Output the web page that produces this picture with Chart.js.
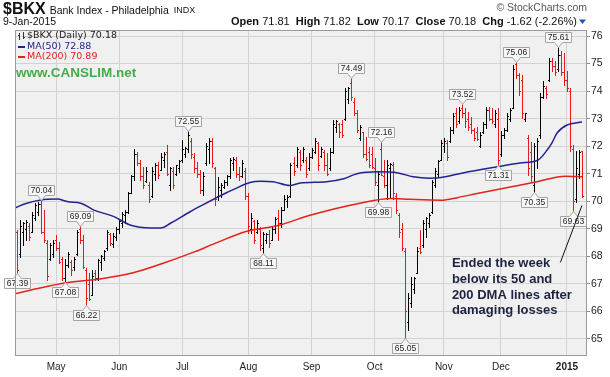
<!DOCTYPE html>
<html><head><meta charset="utf-8">
<script src="https://cdn.jsdelivr.net/npm/chart.js@4/dist/chart.umd.min.js"></script>
<style>html,body{margin:0;padding:0;background:#fff}canvas{display:block}</style>
</head><body>
<canvas id="c" width="610" height="377"></canvas>
<script>
// ---- DATA (daily bars, 11-Apr-2014 .. 9-Jan-2015, x = trading-day index) ----
const opens = [68.90,68.10,68.90,69.00,69.10,68.90,69.40,69.60,69.90,68.90,
68.50,67.90,68.10,68.60,68.30,67.90,67.20,67.70,67.80,67.60,
68.10,69.00,68.60,67.50,67.00,66.60,67.40,67.20,67.80,67.95,
68.30,68.80,68.45,68.70,69.00,69.20,69.50,69.60,70.30,70.90,
71.70,71.40,70.90,70.75,70.60,70.20,71.00,71.30,71.15,71.50,
71.80,70.60,71.10,71.00,71.20,71.50,71.70,71.90,72.20,71.60,
71.20,71.00,70.40,71.40,71.90,72.20,71.20,70.20,70.40,70.50,
70.70,70.90,71.40,71.50,71.00,70.90,71.10,70.20,69.00,69.30,
68.90,69.00,68.30,68.60,68.80,68.60,69.00,69.40,69.20,69.70,
70.00,70.20,71.40,71.30,71.80,71.50,71.50,71.20,71.60,71.80,
72.10,71.65,71.80,71.30,71.20,71.80,72.70,72.80,72.80,73.00,
73.70,74.30,73.60,73.20,72.30,72.50,71.70,71.80,71.70,71.20,
70.60,71.90,70.90,70.60,71.20,71.30,70.20,69.50,69.00,68.20,
65.60,66.30,66.80,67.40,68.30,68.40,69.00,69.20,69.60,70.60,
71.00,71.50,72.00,72.10,72.20,72.60,73.20,72.90,73.40,73.20,
73.00,72.80,72.60,72.50,72.00,72.50,72.80,73.30,73.00,72.80,
73.00,71.70,72.40,72.60,73.00,73.40,75.00,74.60,74.40,73.00,
72.30,71.80,70.60,71.50,72.40,73.80,74.10,74.40,75.10,74.90,
74.80,75.30,74.70,74.40,74.00,71.90,70.10,71.00,71.81];
const highs = [68.96,69.32,69.26,69.32,69.20,69.62,69.92,69.98,70.04,69.68,
68.59,68.47,68.59,68.77,68.53,67.98,67.92,68.17,67.86,67.98,
68.95,69.09,68.77,67.56,67.38,67.50,67.50,67.92,68.05,68.23,
68.95,68.83,68.83,69.08,69.32,69.62,69.68,70.35,70.95,71.88,
71.80,71.50,71.26,71.26,70.71,71.26,71.38,71.44,71.74,71.80,
72.04,71.26,71.26,71.32,71.50,72.22,71.98,72.55,72.28,71.74,
71.44,71.14,71.07,72.10,72.28,72.28,71.26,70.89,70.65,70.77,
70.95,71.56,71.62,71.62,71.26,71.50,71.20,70.29,69.56,69.32,
69.32,69.08,68.90,68.83,68.95,69.08,69.44,69.68,69.80,70.23,
70.23,71.38,71.62,71.98,71.86,71.98,71.62,71.74,71.92,72.28,
72.16,71.98,71.86,71.74,71.92,72.95,72.95,72.83,72.95,74.10,
74.16,74.49,73.74,73.31,72.77,72.53,72.34,71.98,71.98,71.56,
71.07,72.16,71.50,71.50,71.38,71.44,70.29,69.56,69.20,68.29,
66.66,67.26,67.26,68.35,68.95,69.32,69.44,69.56,70.77,71.19,
71.50,72.22,72.28,72.22,72.71,73.19,73.37,73.43,73.52,73.37,
73.25,73.07,72.65,72.71,72.52,72.89,73.43,73.43,73.37,73.31,
73.37,72.54,72.66,73.20,73.38,74.96,75.06,74.66,74.60,73.20,
72.42,72.17,72.11,72.30,73.93,74.35,74.20,75.20,75.20,75.08,
75.61,75.45,75.38,74.72,74.11,72.05,71.81,71.87,71.82];
const lows = [67.39,67.98,68.41,68.59,68.60,68.90,69.32,69.50,68.83,68.53,
67.14,67.86,67.98,68.23,67.74,67.14,67.08,67.62,67.32,67.50,
68.05,68.47,67.56,66.22,66.40,66.59,67.14,67.14,67.50,67.86,
68.23,68.41,68.35,68.59,68.83,69.08,69.20,69.56,70.29,70.77,
71.31,70.77,70.47,70.71,69.98,70.17,70.77,70.83,71.14,71.26,
70.95,70.41,70.47,70.95,71.07,71.44,71.62,71.80,71.56,71.07,
70.89,70.29,70.23,71.31,71.38,71.26,69.86,70.05,70.17,70.47,
70.59,70.83,71.14,70.89,70.77,70.89,70.10,68.83,68.83,68.47,
68.83,68.23,68.11,68.47,68.35,68.59,68.83,68.59,69.08,69.68,
69.80,70.17,70.95,71.26,71.13,71.44,70.89,71.13,71.56,71.74,
71.13,71.62,71.13,70.95,71.13,71.74,72.53,72.35,72.35,72.95,
73.56,73.68,73.13,72.53,72.22,71.62,71.50,71.26,71.20,70.59,
69.98,70.95,70.53,70.10,70.17,70.10,69.56,68.71,68.23,65.05,
65.32,66.17,66.66,67.38,68.11,68.35,68.71,69.08,69.56,70.53,
70.89,71.50,71.80,71.50,72.16,72.47,72.71,72.83,73.07,72.71,
72.59,72.47,72.22,72.22,71.98,72.47,72.65,72.95,72.83,72.71,
71.31,71.63,72.30,72.54,72.90,73.38,74.47,73.87,73.02,72.90,
70.97,70.72,70.35,71.20,72.30,73.75,73.75,74.35,74.72,74.60,
74.72,74.60,74.23,73.99,71.81,69.63,69.99,70.84,70.17];
const closes = [67.50,69.10,69.20,69.25,68.70,69.50,69.85,69.90,68.90,68.60,
67.30,68.40,68.50,68.30,67.80,67.20,67.70,68.10,67.50,67.90,
68.90,68.60,67.60,66.50,66.45,67.30,67.20,67.85,68.00,68.20,
68.90,68.50,68.75,69.00,69.30,69.55,69.60,70.30,70.90,71.70,
71.40,70.90,70.60,71.10,70.10,71.10,71.30,70.95,71.60,71.70,
71.00,71.20,70.60,71.30,71.45,71.90,71.95,72.40,71.70,71.20,
71.00,70.40,70.90,72.00,72.20,71.40,70.10,70.50,70.60,70.70,
70.90,71.50,71.55,71.00,70.90,71.40,70.20,69.10,69.40,68.60,
69.20,68.40,68.80,68.80,68.50,69.00,69.35,69.20,69.70,70.10,
70.15,71.30,71.10,71.90,71.30,71.90,71.00,71.60,71.85,72.20,
71.30,71.90,71.30,71.00,71.80,72.80,72.90,72.50,72.40,74.00,
74.10,73.80,73.20,72.60,72.70,71.70,71.55,71.30,71.25,70.70,
71.00,70.97,70.60,71.30,71.35,70.30,69.70,68.90,68.30,66.00,
66.50,67.00,67.20,68.20,68.15,69.20,69.40,69.50,70.70,71.10,
71.45,72.10,72.20,71.60,72.60,73.10,72.80,73.30,73.20,72.90,
72.70,72.60,72.30,72.25,72.40,72.80,73.30,73.00,72.90,73.20,
71.50,72.40,72.60,73.10,73.30,74.80,74.60,74.00,73.20,73.20,
71.20,70.90,72.00,72.20,73.80,74.20,73.90,75.10,74.90,74.70,
75.30,74.70,74.40,74.10,72.00,70.00,71.20,71.80,70.18];

const monthTickIdx = [13,34,55,77,98,119,142,161,183];
const monthTickLabels = ['May','Jun','Jul','Aug','Sep','Oct','Nov','Dec','2015'];
const yTicks = [65,66,67,68,69,70,71,72,73,74,75,76];

const ma50Idx = [-0.67,3,7.9,13.3,17,21.2,25.6,32.3,37.6,44.6,47.9,51.2,57.6,61.5,65.9,69.5,72.5,77.5,81,85.2,90.8,94.2,103,109,113.1,120.1,126.8,131.8,137.4,141.1,148.4,159.7,167.4,173.4,176.4,178,179.7,183,188];
const ma50Val = [69.76,69.92,70.05,70.08,69.98,69.93,69.68,69.44,69.14,69.03,69.03,69.21,69.62,69.85,70.10,70.30,70.45,70.68,70.73,70.71,70.57,70.66,70.71,70.83,71.00,71.07,71.03,70.89,70.84,70.86,71.03,71.25,71.39,71.50,71.86,72.12,72.48,72.77,72.88];
const ma200Idx = [-0.67,8,16.5,27.6,38.6,47.9,59.2,65.9,76.2,87.5,97.8,114.1,124.5,130.8,141.1,146.8,152.7,162.4,173.4,182.4,188];
const ma200Val = [66.64,66.86,67.04,67.18,67.40,67.72,68.17,68.47,68.90,69.14,69.50,69.93,70.10,70.07,70.04,70.14,70.27,70.48,70.72,70.91,70.89];

const highLabelIdx = [8,21,57,111,121,148,166,180];
const lowLabelIdx = [0,16,23,82,120,129,160,172,185];

// ---- appearance ----
const FONT = '"Liberation Sans", Arial, sans-serif';
const LFONT = '"DejaVu Sans", Verdana, sans-serif';
const xMin = -0.67, xMax = 189.66, yMin = 64.38, yMax = 76.22;
const UP = '#000000', DOWN = '#e31b1b';

const bgPlugin = {
  id: 'bg',
  beforeDraw(chart) {
    const {ctx, chartArea: a} = chart;
    ctx.save();
    ctx.fillStyle = '#ffffff';
    ctx.fillRect(0, 0, chart.width, chart.height);
    ctx.fillStyle = '#f0f0f0';
    ctx.fillRect(a.left, a.top, a.right - a.left, a.bottom - a.top);
    ctx.restore();
  }
};

const ohlcPlugin = {
  id: 'ohlc',
  beforeDatasetsDraw(chart) {
    const {ctx, scales: {x, y}, chartArea: a} = chart;
    ctx.save();
    ctx.beginPath(); ctx.rect(a.left, a.top, a.right - a.left, a.bottom - a.top); ctx.clip();
    for (let i = 0; i < closes.length; i++) {
      const prev = i > 0 ? closes[i - 1] : opens[i];
      ctx.fillStyle = closes[i] >= prev ? UP : DOWN;
      const px = Math.round(x.getPixelForValue(i));
      const yh = Math.round(y.getPixelForValue(highs[i]));
      const yl = Math.round(y.getPixelForValue(lows[i]));
      const yo = Math.round(y.getPixelForValue(opens[i]));
      const yc = Math.round(y.getPixelForValue(closes[i]));
      ctx.fillRect(px, yh, 1, Math.max(1, yl - yh + 1));
      ctx.fillRect(px - 1, yo, 1, 1);
      ctx.fillRect(px + 1, yc, 1, 1);
    }
    ctx.restore();
  }
};

const labelPlugin = {
  id: 'hl',
  afterDatasetsDraw(chart) {
    const {ctx, scales: {x, y}} = chart;
    ctx.save();
    ctx.font = '8.5px ' + FONT;
    ctx.textAlign = 'center';
    ctx.textBaseline = 'middle';
    const W = 26, H = 10, T = 5;
    const draw = (i, val, up) => {
      const px = Math.round(x.getPixelForValue(i)) + 0.5;
      const py = Math.round(y.getPixelForValue(val)) + 0.5;
      ctx.beginPath();
      if (up) {
        const b = py - T, t = b - H;
        ctx.moveTo(px - W / 2, t); ctx.lineTo(px + W / 2, t); ctx.lineTo(px + W / 2, b);
        ctx.lineTo(px + 4, b); ctx.lineTo(px, py); ctx.lineTo(px - 4, b); ctx.lineTo(px - W / 2, b);
      } else {
        const t = py + T, b = t + H;
        ctx.moveTo(px - W / 2, t); ctx.lineTo(px - 4, t); ctx.lineTo(px, py); ctx.lineTo(px + 4, t);
        ctx.lineTo(px + W / 2, t); ctx.lineTo(px + W / 2, b); ctx.lineTo(px - W / 2, b);
      }
      ctx.closePath();
      ctx.fillStyle = '#f7f7f7'; ctx.fill();
      ctx.strokeStyle = '#a4a4a4'; ctx.lineWidth = 1; ctx.stroke();
      ctx.fillStyle = '#222';
      ctx.fillText(val.toFixed(2), px, up ? py - T - H / 2 + 0.5 : py + T + H / 2 + 0.5);
    };
    highLabelIdx.forEach(i => draw(i, highs[i], true));
    lowLabelIdx.forEach(i => draw(i, lows[i], false));
    ctx.restore();
  }
};

const textPlugin = {
  id: 'texts',
  afterDraw(chart) {
    const {ctx, chartArea: a, scales: {x, y}} = chart;
    const n = closes.length - 1;
    ctx.save();
    // plot border
    ctx.strokeStyle = '#9a9a9a'; ctx.lineWidth = 1;
    ctx.strokeRect(a.left + 0.5, a.top + 0.5, a.right - a.left - 1, a.bottom - a.top - 1);

    ctx.textBaseline = 'middle'; ctx.textAlign = 'left';
    // title line
    ctx.fillStyle = '#111';
    ctx.font = 'bold 16px ' + FONT;
    ctx.fillText('$BKX', 3, 10);
    let cx = 3 + ctx.measureText('$BKX').width + 4;
    ctx.font = '10.5px ' + FONT;
    ctx.fillText('Bank Index - Philadelphia', cx, 11);
    cx += ctx.measureText('Bank Index - Philadelphia').width + 5;
    ctx.font = '9px ' + FONT;
    ctx.fillText('INDX', cx, 11);
    ctx.fillStyle = '#555';
    ctx.font = '10.5px ' + FONT;
    ctx.textAlign = 'right';
    ctx.fillText('\u00A9 StockCharts.com', 587, 8);
    ctx.textAlign = 'left';

    // date + OHLC line
    ctx.fillStyle = '#111';
    ctx.font = '10.5px ' + FONT;
    ctx.fillText('9-Jan-2015', 3, 22);
    const chg = closes[n] - closes[n - 1];
    const pct = chg / closes[n - 1] * 100;
    const segs = [
      ['Open', true], [' ' + opens[n].toFixed(2), false], ['  ', false],
      ['High', true], [' ' + highs[n].toFixed(2), false], ['  ', false],
      ['Low', true], [' ' + lows[n].toFixed(2), false], ['  ', false],
      ['Close', true], [' ' + closes[n].toFixed(2), false], ['  ', false],
      ['Chg', true], [' ' + chg.toFixed(2) + ' (' + pct.toFixed(2) + '%)', false]
    ];
    const fb = 'bold 11px ' + FONT, fr = '11px ' + FONT;
    let tw = 0;
    segs.forEach(s => { ctx.font = s[1] ? fb : fr; tw += ctx.measureText(s[0]).width; });
    let sx = 577 - tw;
    segs.forEach(s => { ctx.font = s[1] ? fb : fr; ctx.fillText(s[0], sx, 22); sx += ctx.measureText(s[0]).width; });
    ctx.fillStyle = '#2050c8';
    ctx.beginPath(); ctx.moveTo(579, 19.5); ctx.lineTo(586, 19.5); ctx.lineTo(582.5, 24); ctx.closePath(); ctx.fill();

    // legend inside plot
    ctx.strokeStyle = '#333'; ctx.lineWidth = 1;
    ctx.beginPath();
    ctx.moveTo(19.5, 33); ctx.lineTo(19.5, 40); ctx.moveTo(18, 35.5); ctx.lineTo(19.5, 35.5);
    ctx.moveTo(23.5, 32); ctx.lineTo(23.5, 39); ctx.moveTo(23.5, 37.5); ctx.lineTo(25, 37.5);
    ctx.stroke();
    ctx.font = '9.5px ' + LFONT;
    ctx.fillStyle = '#222';
    ctx.fillText('$BKX (Daily) ' + closes[n].toFixed(2), 27, 36);
    ctx.fillStyle = '#23238e'; ctx.fillRect(18, 46, 7, 2);
    ctx.fillText('MA(50) ' + ma50Val[ma50Val.length - 1].toFixed(2), 27, 47);
    ctx.fillStyle = '#e2231a'; ctx.fillRect(18, 56, 7, 2);
    ctx.fillText('MA(200) ' + ma200Val[ma200Val.length - 1].toFixed(2), 27, 57);

    // watermark
    ctx.font = 'bold 13.5px ' + FONT;
    ctx.fillStyle = '#3fae4a';
    ctx.fillText('www.CANSLIM.net', 16, 73);

    // annotation
    const ax = x.getPixelForValue(144.7), ay = y.getPixelForValue(67.75);
    ctx.font = 'bold 13px ' + FONT;
    ctx.fillStyle = '#1c2340';
    ['Ended the week', 'below its 50 and', '200 DMA lines after', 'damaging losses']
      .forEach((t, k) => ctx.fillText(t, ax, ay + k * 15.9));
    ctx.strokeStyle = '#111'; ctx.lineWidth = 1;
    ctx.beginPath();
    ctx.moveTo(x.getPixelForValue(180.8), y.getPixelForValue(67.78));
    ctx.lineTo(x.getPixelForValue(188.0), y.getPixelForValue(69.85));
    ctx.stroke();
    ctx.restore();
  }
};

new Chart(document.getElementById('c'), {
  type: 'line',
  data: {
    datasets: [
      { label: 'MA(50)', data: ma50Idx.map((v, k) => ({x: v, y: ma50Val[k]})),
        borderColor: '#23238e', borderWidth: 1.5, pointRadius: 0, fill: false, cubicInterpolationMode: 'monotone' },
      { label: 'MA(200)', data: ma200Idx.map((v, k) => ({x: v, y: ma200Val[k]})),
        borderColor: '#e2231a', borderWidth: 1.5, pointRadius: 0, fill: false, cubicInterpolationMode: 'monotone' }
    ]
  },
  options: {
    responsive: false, animation: false, devicePixelRatio: 1,
    layout: {padding: {left: 15, top: 30, right: 0, bottom: 0}},
    plugins: {legend: {display: false}, tooltip: {enabled: false}, title: {display: false}},
    scales: {
      x: {
        type: 'linear', min: xMin, max: xMax,
        afterBuildTicks: s => { s.ticks = monthTickIdx.map(v => ({value: v})); },
        afterFit: s => { s.height = 21; },
        ticks: {
          autoSkip: false, maxRotation: 0, padding: 5, color: '#222',
          font: c => ({family: FONT, size: 10, weight: (c.tick && c.tick.value === 183) ? 'bold' : 'normal'}),
          callback: v => { const k = monthTickIdx.indexOf(v); return k >= 0 ? monthTickLabels[k] : ''; }
        },
        grid: {color: '#d3d3d3', drawTicks: false},
        border: {display: false}
      },
      y: {
        type: 'linear', position: 'right', min: yMin, max: yMax,
        afterBuildTicks: s => { s.ticks = yTicks.map(v => ({value: v})); },
        afterFit: s => { s.width = 23; },
        ticks: {padding: 1, color: '#222', font: {family: FONT, size: 10.5}, callback: v => String(v)},
        grid: {color: '#d3d3d3', tickLength: 3, tickColor: '#888'},
        border: {display: false}
      }
    }
  },
  plugins: [bgPlugin, ohlcPlugin, labelPlugin, textPlugin]
});
</script>
</body></html>
